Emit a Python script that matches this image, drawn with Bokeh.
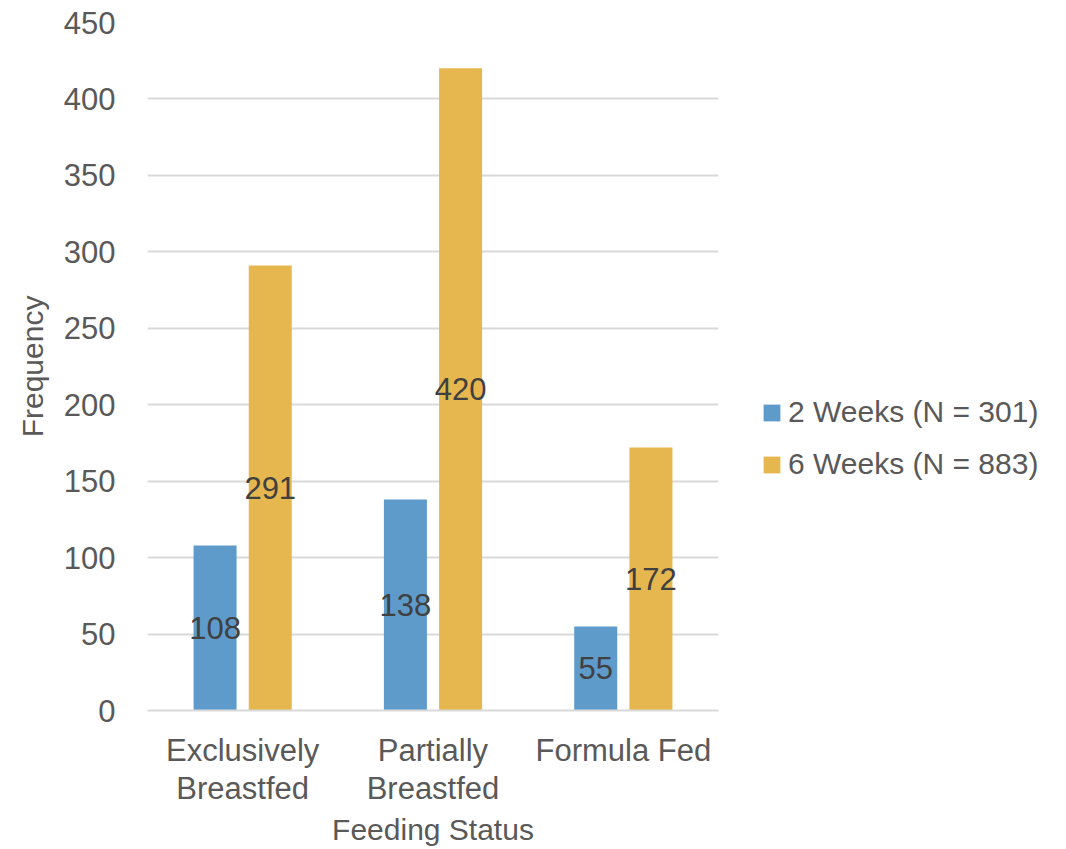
from bokeh.plotting import figure
from bokeh.layouts import row
from bokeh.models import ColumnDataSource, Range1d, FactorRange, Legend, LegendItem, LabelSet
from bokeh.core.properties import value
from bokeh.transform import dodge
from bokeh.embed import file_html
from bokeh.resources import INLINE

# Feeding status counts at two follow-up points
categories = ["Exclusively\nBreastfed", "Partially\nBreastfed", "Formula Fed"]
weeks2 = [108, 138, 55]
weeks6 = [291, 420, 172]
series_names = ["2 Weeks (N = 301)", "6 Weeks (N = 883)"]
y_ticks = [0, 50, 100, 150, 200, 250, 300, 350, 400, 450]

FONT = "Liberation Sans"
BLUE = "#5E9BCB"
GOLD = "#E6B74F"
GRID = "#D9D9D9"
TICK_COLOR = "#595959"
LABEL_COLOR = "#404040"

src = ColumnDataSource(dict(
    cat=categories,
    w2=weeks2,
    w6=weeks6,
    w2_mid=[v / 2 for v in weeks2],
    w6_mid=[v / 2 for v in weeks6],
    w2_txt=[str(v) for v in weeks2],
    w6_txt=[str(v) for v in weeks6],
))

p = figure(
    width=740, height=849,
    x_range=FactorRange(*categories),
    y_range=Range1d(0, 450),
    output_backend="svg", toolbar_location=None,
    min_border_left=147, min_border_right=22,
    min_border_top=22, min_border_bottom=138,
    outline_line_color=None,
)

OFF = 0.145
W = 0.226
p.vbar(x=dodge("cat", -OFF, range=p.x_range), top="w2", width=W,
       source=src, fill_color=BLUE, line_color=None)
p.vbar(x=dodge("cat", OFF, range=p.x_range), top="w6", width=W,
       source=src, fill_color=GOLD, line_color=None)

# value labels centred inside each bar
for col, off in (("w2", -OFF), ("w6", OFF)):
    p.add_layout(LabelSet(
        x=dodge("cat", off, range=p.x_range), y=f"{col}_mid", text=f"{col}_txt",
        source=src, text_align="center", text_baseline="middle",
        text_font=value(FONT), text_font_size=value("31px"),
        text_color=value(LABEL_COLOR),
    ))

# axes
p.yaxis.ticker = y_ticks
p.yaxis.axis_line_color = None
p.yaxis.major_tick_line_color = None
p.yaxis.minor_tick_line_color = None
p.yaxis.major_label_standoff = 26
p.yaxis.axis_label = "Frequency"
p.yaxis.axis_label_standoff = 12

p.xaxis.axis_line_color = GRID
p.xaxis.axis_line_width = 2
p.xaxis.major_tick_line_color = None
p.xaxis.minor_tick_line_color = None
p.xaxis.major_label_standoff = 16
p.xaxis.major_label_text_line_height = 1.1
p.xaxis.axis_label = "Feeding Status"
p.xaxis.axis_label_standoff = 4

for ax in (p.xaxis[0], p.yaxis[0]):
    ax.major_label_text_font = FONT
    ax.major_label_text_font_size = "31px"
    ax.major_label_text_color = TICK_COLOR
    ax.axis_label_text_font = FONT
    ax.axis_label_text_font_size = "30px"
    ax.axis_label_text_font_style = "normal"
    ax.axis_label_text_color = TICK_COLOR

p.xgrid.grid_line_color = None
p.ygrid.grid_line_color = GRID
p.ygrid.grid_line_width = 2

# legend panel to the right of the chart; the key renderers are
# zero-size bars that only carry the series colours
lg = figure(
    width=326, height=849,
    x_range=Range1d(0, 1), y_range=Range1d(0, 1),
    x_axis_type=None, y_axis_type=None,
    output_backend="svg", toolbar_location=None,
    min_border=0, outline_line_color=None,
)
lg.grid.visible = False
key_src = ColumnDataSource(dict(x=[0], top=[0]))
k2 = lg.vbar(x="x", top="top", width=0, source=key_src, fill_color=BLUE, line_color=None)
k6 = lg.vbar(x="x", top="top", width=0, source=key_src, fill_color=GOLD, line_color=None)

legend = Legend(
    items=[LegendItem(label=series_names[0], renderers=[k2]),
           LegendItem(label=series_names[1], renderers=[k6])],
    location=(21, 229),
    glyph_width=21, glyph_height=21,
    label_standoff=6, spacing=18, padding=0, margin=0,
    label_text_font=FONT, label_text_font_size="30px",
    label_text_color=TICK_COLOR,
    border_line_color=None, background_fill_alpha=0,
)
lg.add_layout(legend, "center")

open("out.html", "w").write(file_html(row(p, lg), INLINE))
